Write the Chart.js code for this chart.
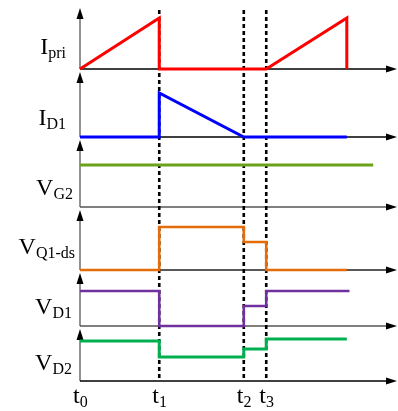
<!DOCTYPE html>
<html>
<head>
<meta charset="utf-8">
<script src="https://cdn.jsdelivr.net/npm/chart.js@4/dist/chart.umd.min.js"></script>
<style>
  html, body { margin: 0; padding: 0; background: #ffffff; }
  #wrap { width: 398px; height: 411px; position: relative; }
</style>
</head>
<body>
<div id="wrap"><canvas id="c" width="398" height="411"></canvas></div>
<script>
// Switching instants t0..t3 and the end of the period (time units)
const tickTimes = [0, 3, 6.2, 7.05];
const tickSubs = ['0', '1', '2', '3'];
const timeMax = 12;

// Waveforms as [time, level] pairs, levels normalised per trace
const iPri  = [[0, 0], [3, 1], [3, 0], [7.05, 0], [10.1, 1], [10.1, 0]];
const iD1   = [[0, 0], [3, 0], [3, 1], [6.2, 0], [10.1, 0]];
const vG2   = [[0, 1], [11.1, 1]];
const vQ1ds = [[0, 0], [3, 0], [3, 1], [6.2, 1], [6.2, 0.65], [7.05, 0.65], [7.05, 0], [10.1, 0]];
const vD1   = [[0, 1], [3, 1], [3, 0], [6.2, 0], [6.2, 0.57], [7.05, 0.57], [7.05, 1], [10.2, 1]];
const vD2   = [[0, 1], [3, 1], [3, 0.6], [6.2, 0.6], [6.2, 0.8], [7.05, 0.8], [7.05, 1.05], [10.1, 1.05]];

// Trace names: main symbol and subscript
const traceMain = ['I', 'I', 'V', 'V', 'V', 'V'];
const traceSub  = ['pri', 'D1', 'G2', 'Q1-ds', 'D1', 'D2'];

const panels = [
  { id: 'p1', data: iPri,  color: '#ff0000', width: 3,   max: 1.255, weight: 64, axis: '#000000', labelX: 66, labelDy: -15 },
  { id: 'p2', data: iD1,   color: '#0000ff', width: 3,   max: 1.545, weight: 68, axis: '#000000', labelX: 66, labelDy: -12 },
  { id: 'p3', data: vG2,   color: '#6aa31a', width: 3,   max: 1.667, weight: 70, axis: '#555555', labelX: 73, labelDy: -12 },
  { id: 'p4', data: vQ1ds, color: '#e46c0a', width: 2.6, max: 1.465, weight: 63, axis: '#222222', labelX: 75, labelDy: -16 },
  { id: 'p5', data: vD1,   color: '#7030a0', width: 2.6, max: 1.6,   weight: 56, axis: '#555555', labelX: 72, labelDy: -12 },
  { id: 'p6', data: vD2,   color: '#00b050', width: 3,   max: 1.375, weight: 55, axis: '#000000', labelX: 72, labelDy: -11 }
];

const SERIF = '"Liberation Serif", "DejaVu Serif", serif';
const ARROW_GAP = 3;

const scales = {
  x: { type: 'linear', min: 0, max: timeMax, display: false }
};
panels.forEach((p, i) => {
  scales[p.id] = {
    type: 'linear',
    position: 'left',
    stack: 'traces',
    stackWeight: p.weight,
    weight: panels.length - i,
    min: 0,
    max: p.max,
    display: true,
    ticks: { display: false },
    grid: { display: false, drawTicks: false },
    border: { display: false }
  };
});

function drawArrowUp(ctx, x, tipY) {
  ctx.beginPath();
  ctx.moveTo(x, tipY);
  ctx.lineTo(x - 3.5, tipY + 11);
  ctx.lineTo(x + 3.5, tipY + 11);
  ctx.closePath();
  ctx.fill();
}
function drawArrowRight(ctx, tipX, y) {
  ctx.beginPath();
  ctx.moveTo(tipX, y);
  ctx.lineTo(tipX - 11, y - 3.5);
  ctx.lineTo(tipX - 11, y + 3.5);
  ctx.closePath();
  ctx.fill();
}
function drawSubLabel(ctx, main, sub, x, y, align) {
  ctx.font = '24px ' + SERIF;
  const wMain = ctx.measureText(main).width;
  ctx.font = '16px ' + SERIF;
  const wSub = ctx.measureText(sub).width;
  const left = align === 'right' ? x - wMain - wSub : x;
  ctx.textAlign = 'left';
  ctx.textBaseline = 'alphabetic';
  ctx.fillStyle = '#000000';
  ctx.font = '24px ' + SERIF;
  ctx.fillText(main, left, y);
  ctx.font = '16px ' + SERIF;
  ctx.fillText(sub, left + wMain, y + 4);
}

const timingAxes = {
  id: 'timingAxes',
  beforeDatasetsDraw(chart) {
    const ctx = chart.ctx;
    const xs = chart.scales.x;
    const x0 = xs.getPixelForValue(0);
    const xEnd = xs.getPixelForValue(timeMax);
    ctx.save();
    panels.forEach((p) => {
      const s = chart.scales[p.id];
      const base = s.getPixelForValue(0);
      const tip = s.top + ARROW_GAP;
      // vertical axis with arrow
      ctx.strokeStyle = '#777777';
      ctx.lineWidth = 1.6;
      ctx.beginPath();
      ctx.moveTo(x0, base);
      ctx.lineTo(x0, tip + 9);
      ctx.stroke();
      ctx.fillStyle = '#000000';
      drawArrowUp(ctx, x0, tip);
      // time axis with arrow
      ctx.strokeStyle = p.axis;
      ctx.lineWidth = 1.3;
      ctx.beginPath();
      ctx.moveTo(x0, base);
      ctx.lineTo(xEnd - 9, base);
      ctx.stroke();
      ctx.fillStyle = '#000000';
      drawArrowRight(ctx, xEnd, base);
    });
    // dotted markers at t1..t3
    const last = chart.scales[panels[panels.length - 1].id];
    const yBottom = last.getPixelForValue(0);
    const yTop = chart.scales[panels[0].id].top + 5;
    ctx.strokeStyle = '#000000';
    ctx.lineWidth = 2.6;
    ctx.setLineDash([4, 3]);
    tickTimes.slice(1).forEach((t) => {
      const x = xs.getPixelForValue(t);
      ctx.beginPath();
      ctx.moveTo(x, yTop);
      ctx.lineTo(x, yBottom);
      ctx.stroke();
    });
    ctx.restore();
  },
  afterDraw(chart) {
    const ctx = chart.ctx;
    const xs = chart.scales.x;
    ctx.save();
    panels.forEach((p, i) => {
      const s = chart.scales[p.id];
      const base = s.getPixelForValue(0);
      drawSubLabel(ctx, traceMain[i], traceSub[i], p.labelX, base + p.labelDy, 'right');
    });
    const last = chart.scales[panels[panels.length - 1].id];
    const yLab = last.getPixelForValue(0) + 22;
    tickTimes.forEach((t, i) => {
      drawSubLabel(ctx, 't', tickSubs[i], xs.getPixelForValue(t) - 7, yLab, 'left');
    });
    ctx.restore();
  }
};

new Chart(document.getElementById('c'), {
  type: 'line',
  data: {
    datasets: panels.map((p) => ({
      data: p.data.map(([x, y]) => ({ x, y })),
      xAxisID: 'x',
      yAxisID: p.id,
      borderColor: p.color,
      borderWidth: p.width,
      borderJoinStyle: 'miter',
      borderCapStyle: 'butt',
      pointRadius: 0,
      tension: 0,
      fill: false,
      clip: false
    }))
  },
  options: {
    responsive: false,
    devicePixelRatio: 1,
    animation: false,
    events: [],
    layout: { autoPadding: false, padding: { left: 80, right: 1, top: 5, bottom: 30 } },
    plugins: { legend: { display: false }, tooltip: { enabled: false } },
    scales: scales
  },
  plugins: [timingAxes]
});
</script>
</body>
</html>
